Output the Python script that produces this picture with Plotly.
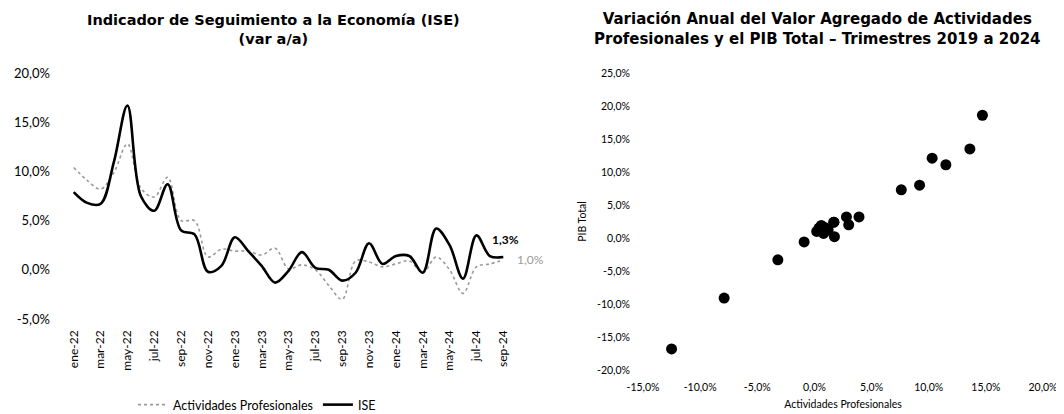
import plotly.graph_objects as go

# ---------------- data ----------------
months = ["ene-22", "feb-22", "mar-22", "abr-22", "may-22", "jun-22", "jul-22", "ago-22",
          "sep-22", "oct-22", "nov-22", "dic-22", "ene-23", "feb-23", "mar-23", "abr-23",
          "may-23", "jun-23", "jul-23", "ago-23", "sep-23", "oct-23", "nov-23", "dic-23",
          "ene-24", "feb-24", "mar-24", "abr-24", "may-24", "jun-24", "jul-24", "ago-24",
          "sep-24"]
tick_months = months[::2]

ise = [7.9, 6.8, 6.7, 11.0, 16.7, 7.5, 6.0, 8.7, 4.0, 3.6, -0.2, 0.4, 3.3, 1.9, 0.4, -1.3,
       -0.1, 1.8, 0.2, 0.0, -1.1, -0.3, 2.7, 0.6, 1.4, 1.4, -0.3, 4.2, 2.5, -0.9, 3.5, 1.4, 1.3]
act_prof = [10.4, 9.1, 8.2, 9.9, 12.8, 8.3, 7.4, 9.4, 5.0, 5.0, 1.3, 2.1, 1.9, 1.9, 1.5, 2.2,
            0.1, 0.5, 0.0, -1.6, -3.0, 0.9, 0.8, 0.3, 0.6, 0.9, -0.3, 1.3, 0.0, -2.4, 0.3, 0.6, 1.0]

scatter_act = [14.7, 13.6, 10.3, 11.5, 9.2, 7.6, 3.9, 2.8, 3.0, 1.7, 0.6, 0.2, 0.8, 1.2,
               1.75, 1.7, -0.9, -3.2, -7.9, -12.5, 0.4, 0.9]
scatter_pib = [18.6, 13.5, 12.1, 11.1, 8.0, 7.3, 3.2, 3.2, 2.0, 2.4, 1.9, 1.0, 0.7, 1.2,
               0.2, 2.4, -0.6, -3.3, -9.1, -16.8, 1.5, 1.6]

left_title = "Indicador de Seguimiento a la Economía (ISE)<br>(var a/a)"
right_title = "Variación Anual del Valor Agregado de Actividades<br>Profesionales y el PIB Total – Trimestres 2019 a 2024"

W, H = 1064, 414
OFF = 8  # page body margin
FONT = "Lato"

def px_x(p):
    return (p - OFF) / W

def px_y(p):
    return (H - (p - OFF)) / H

fig = go.Figure()

fig.add_trace(go.Scatter(
    x=months, y=act_prof, name="Actividades Profesionales", mode="lines",
    line=dict(color="#9a9a9a", width=1.6, dash="dot", shape="spline", smoothing=1.0),
    xaxis="x", yaxis="y"))
fig.add_trace(go.Scatter(
    x=months, y=ise, name="ISE", mode="lines",
    line=dict(color="#000000", width=2.6, shape="spline", smoothing=1.0),
    xaxis="x", yaxis="y"))

fig.add_trace(go.Scatter(
    x=scatter_act, y=scatter_pib, mode="markers", showlegend=False,
    marker=dict(color="#000000", size=11),
    xaxis="x2", yaxis="y2"))

fig.add_annotation(x=months[-1], y=ise[-1], xref="x", yref="y",
                   text="<b>1,3%</b>", showarrow=False, xanchor="left", yanchor="middle",
                   xshift=-13, yshift=18, font=dict(family=FONT, size=12, color="#000"))
fig.add_annotation(x=months[-1], y=act_prof[-1], xref="x", yref="y",
                   text="1,0%", showarrow=False, xanchor="left", yanchor="middle",
                   xshift=12, yshift=0, font=dict(family=FONT, size=12, color="#9a9a9a"))

fig.add_annotation(x=px_x(273), y=px_y(29), xref="paper", yref="paper",
                   xanchor="center", yanchor="middle",
                   text="<b>" + left_title + "</b>", showarrow=False,
                   font=dict(family="DejaVu Sans", size=14.5, color="#000"))
fig.add_annotation(x=px_x(817), y=px_y(29), xref="paper", yref="paper",
                   xanchor="center", yanchor="middle",
                   text="<b>" + right_title + "</b>", showarrow=False,
                   font=dict(family="DejaVu Sans", size=15, color="#000"))

fig.update_layout(
    width=W, height=H,
    margin=dict(l=0, r=0, t=0, b=0, autoexpand=False),
    paper_bgcolor="white", plot_bgcolor="white",
    font=dict(family=FONT, color="#000"),
    showlegend=True,
    legend=dict(orientation="h", x=px_x(257), xanchor="center", y=px_y(405), yanchor="middle",
                font=dict(family=FONT, size=12.5, color="#000"), itemwidth=30,
                traceorder="normal"),
    xaxis=dict(domain=[px_x(67), px_x(510)], type="category", range=[-0.5, 32.5],
               tickvals=tick_months, ticktext=tick_months, tickangle=-90,
               showgrid=False, showline=False, zeroline=False, ticks="",
               ticklabelstandoff=8, automargin=False,
               tickfont=dict(family=FONT, size=12, color="#000"), anchor="y"),
    yaxis=dict(domain=[px_y(319), px_y(73)], range=[-5, 20], tickvals=[-5, 0, 5, 10, 15, 20],
               ticktext=["-5,0%", "0,0%", "5,0%", "10,0%", "15,0%", "20,0%"],
               showgrid=False, showline=False, zeroline=False, ticks="",
               ticklabelstandoff=16, automargin=False,
               tickfont=dict(family=FONT, size=13, color="#000"), anchor="x"),
    xaxis2=dict(domain=[px_x(643), px_x(1043)], range=[-15, 20],
                tickvals=[-15, -10, -5, 0, 5, 10, 15, 20],
                ticktext=["-15,0%", "-10,0%", "-5,0%", "0,0%", "5,0%", "10,0%", "15,0%", "20,0%"],
                showgrid=False, showline=False, zeroline=False, ticks="",
                ticklabelstandoff=9, automargin=False,
                tickfont=dict(family=FONT, size=10.5, color="#000"),
                title=dict(text="Actividades Profesionales", font=dict(family=FONT, size=10.5, color="#000"), standoff=9),
                anchor="y2"),
    yaxis2=dict(domain=[px_y(370), px_y(73)], range=[-20, 25],
                tickvals=[-20, -15, -10, -5, 0, 5, 10, 15, 20, 25],
                ticktext=["-20,0%", "-15,0%", "-10,0%", "-5,0%", "0,0%", "5,0%", "10,0%", "15,0%", "20,0%", "25,0%"],
                showgrid=False, showline=False, zeroline=False, ticks="",
                ticklabelstandoff=12, automargin=False,
                tickfont=dict(family=FONT, size=10.5, color="#000"),
                title=dict(text="PIB Total", font=dict(family=FONT, size=10.5, color="#000"), standoff=8),
                anchor="x2"),
)

fig.write_html("out.html")
